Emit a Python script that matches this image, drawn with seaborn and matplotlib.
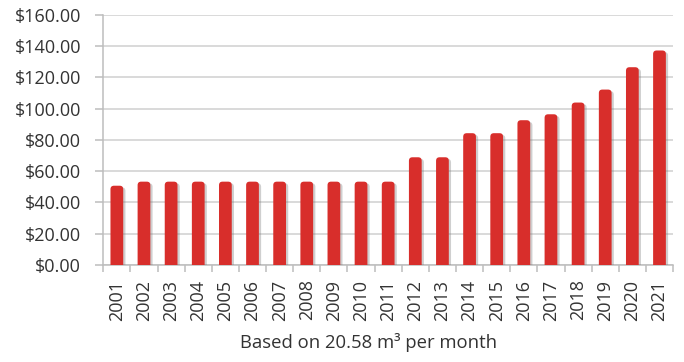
import numpy as np
import pandas as pd
import matplotlib
matplotlib.use("Agg")
import matplotlib.pyplot as plt
import matplotlib.patheffects as pe
from matplotlib.patches import FancyBboxPatch
from matplotlib.ticker import FixedLocator
import seaborn as sns

years = [str(y) for y in range(2001, 2022)]
costs = [50.7, 53.3, 53.3, 53.3, 53.3, 53.3, 53.3, 53.3, 53.3, 53.3, 53.3,
         68.9, 68.9, 84.3, 84.3, 92.6, 96.4, 103.9, 112.2, 126.5, 137.2]
y_ticks = [0, 20, 40, 60, 80, 100, 120, 140, 160]
x_label = "Based on 20.58 m³ per month"

sns.set_theme(style="white")
plt.rcParams["font.family"] = ["Open Sans", "DejaVu Sans"]

df = pd.DataFrame({"year": years, "cost": costs})

fig = plt.figure(figsize=(6.84, 3.62), dpi=100)
ax = fig.add_axes([0.151, 0.268, 0.833, 0.691])

bar_color = "#d82e2b"
text_color = "#333333"
sns.barplot(data=df, x="year", y="cost", color=bar_color, width=0.47,
            saturation=1, ax=ax)

# Replace the square bars with round-capped ones carrying a soft shadow
x_px = 570 / 21
y_px = 250 / 160
for p in list(ax.patches):
    x, w, h = p.get_x(), p.get_width(), p.get_height()
    p.set_visible(False)
    r = 3.5 / x_px
    fb = FancyBboxPatch((x, -10), w, h + 10,
                        boxstyle=f"round,pad=0,rounding_size={r}",
                        mutation_aspect=x_px / y_px,
                        facecolor=bar_color, edgecolor="none", zorder=3)
    fb.set_path_effects([pe.SimplePatchShadow(offset=(1.6, -1.2),
                                              shadow_rgbFace="#777777",
                                              alpha=0.35),
                         pe.Normal()])
    ax.add_patch(fb)

ax.set_ylim(0, 160)
ax.set_xlim(-0.5, len(years) - 0.5)
ax.set_yticks(y_ticks)
ax.set_yticklabels([f"${v:.2f}" for v in y_ticks])

ax.grid(axis="y", color="#d0d0d0", linewidth=1.1, zorder=0)
ax.set_axisbelow(True)

for s in ["top", "right"]:
    ax.spines[s].set_visible(False)
for s in ["left", "bottom"]:
    ax.spines[s].set_color("#bdbdbd")
    ax.spines[s].set_linewidth(1.1)

ax.xaxis.set_minor_locator(FixedLocator(np.arange(-0.5, len(years), 1.0)))
ax.tick_params(axis="x", which="major", length=0, pad=10.5, rotation=90,
               labelsize=13, labelcolor=text_color)
ax.tick_params(axis="x", which="minor", length=5, color="#bdbdbd",
               width=1.1, bottom=True)
ax.tick_params(axis="y", length=6, color="#bdbdbd", width=1.1, left=True,
               labelsize=13, labelcolor=text_color, pad=10)

ax.set_xlabel(x_label, fontsize=13.3, color=text_color)
ax.xaxis.set_label_coords(0.465, -0.31)
ax.xaxis.label.set_va("center")
ax.set_ylabel("")

fig.savefig("out.png", dpi=100)
